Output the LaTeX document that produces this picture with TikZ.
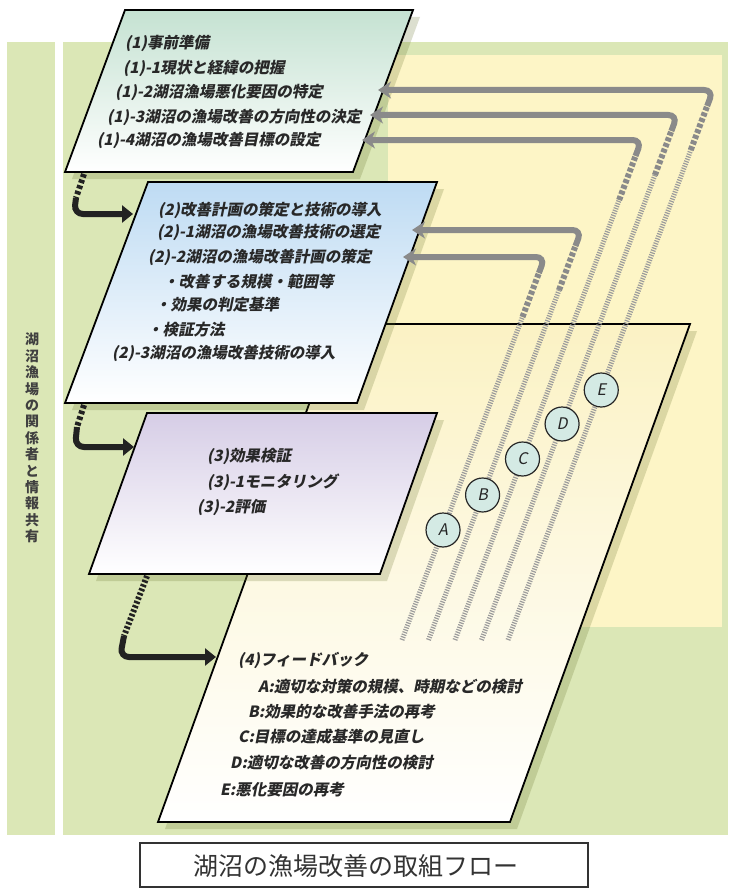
\documentclass[tikz,border=0pt]{standalone}
\usepackage{fontspec}
\usetikzlibrary{arrows.meta}
\newfontfamily\jp{Noto Sans CJK JP}
\newfontfamily\jpit[FakeSlant=0.2]{Noto Sans CJK JP}
\definecolor{bggreen}{RGB}{219,231,182}
\definecolor{bgyellow}{RGB}{253,245,198}
\definecolor{ponetop}{RGB}{197,226,210}
\definecolor{ptwotop}{RGB}{190,219,243}
\definecolor{pthreetop}{RGB}{214,205,230}
\definecolor{pfourtop}{RGB}{251,242,196}
\definecolor{fbgray}{RGB}{138,138,138}
\definecolor{circfill}{RGB}{212,234,228}
\definecolor{txtc}{RGB}{40,40,40}
\definecolor{shadowc}{RGB}{100,110,40}
\definecolor{connc}{RGB}{34,34,34}
\tikzset{
  panel/.style={draw=black, line width=1.8pt, line join=miter},
  shadowp/.style={fill=shadowc, fill opacity=0.22, draw=none},
  ptext/.style={anchor=west, inner sep=0pt, text=txtc, font=\jpit\bfseries\fontsize{15.5}{18}\selectfont},
  fbsolid/.style={draw=fbgray, line width=6pt, rounded corners=9pt, -{Stealth[length=13pt,width=17pt,inset=4pt]}},
  fbcoarse/.style={draw=fbgray, line width=6pt, dash pattern=on 4pt off 2pt},
  fbfine/.style={draw=fbgray!85, line width=5pt, dash pattern=on 1.2pt off 1.3pt},
  letterc/.style={circle, draw=black!85, line width=1.2pt, fill=circfill, minimum size=34pt, inner sep=0pt, text=black!85, font=\jpit\fontsize{16}{16}\selectfont},
  conndash/.style={draw=connc, line width=6pt, dash pattern=on 3.5pt off 2.5pt},
  connsolid/.style={draw=connc, line width=6pt, rounded corners=9pt, -{Triangle[length=11pt,width=17pt]}},
}
\begin{document}
\begin{tikzpicture}[x=1pt,y=-1pt]
\useasboundingbox (0,0) rectangle (728,888);
\fill[white] (0,0) rectangle (728,888);
% backgrounds
\fill[bggreen] (7,42) rectangle (55,835);
\fill[bggreen] (63,42) rectangle (728,835);
\fill[bgyellow] (388,55) rectangle (722,627);

% panel 4
\begin{scope}[shift={(7,7)}]
\fill[shadowp] (338,324) -- (690,324) -- (510,822) -- (158,822) -- cycle;
\end{scope}
\shade[top color=pfourtop, bottom color=white] (338,324) -- (690,324) -- (510,822) -- (158,822) -- cycle;
\draw[panel] (338,324) -- (690,324) -- (510,822) -- (158,822) -- cycle;

% panel 3
\begin{scope}[shift={(7,7)}]
\fill[shadowp] (147,413) -- (437,413) -- (380,574) -- (89,574) -- cycle;
\end{scope}
\shade[top color=pthreetop, bottom color=white] (147,413) -- (437,413) -- (380,574) -- (89,574) -- cycle;
\draw[panel] (147,413) -- (437,413) -- (380,574) -- (89,574) -- cycle;

% panel 2
\begin{scope}[shift={(7,7)}]
\fill[shadowp] (148,182) -- (437,182) -- (357,403) -- (65,403) -- cycle;
\end{scope}
\shade[top color=ptwotop, bottom color=white] (148,182) -- (437,182) -- (357,403) -- (65,403) -- cycle;
\draw[panel] (148,182) -- (437,182) -- (357,403) -- (65,403) -- cycle;

% panel 1
\begin{scope}[shift={(7,7)}]
\fill[shadowp] (125,10) -- (413,10) -- (353,172) -- (65,172) -- cycle;
\end{scope}
\shade[top color=ponetop, bottom color=white] (125,10) -- (413,10) -- (353,172) -- (65,172) -- cycle;
\draw[panel] (125,10) -- (413,10) -- (353,172) -- (65,172) -- cycle;

% feedback lines
\foreach \xb/\ya/\xt/\n/\yc in {402/257/403/A/530, 428.5/230/412/B/495, 455/140/362/C/459, 481.5/115/370/D/424, 508/90/378/E/390}{
  \pgfmathsetmacro\xc{\xb+0.373*(640-\ya)}
  \pgfmathsetmacro\xs{\xb+0.373*(640-\ya-16)}
  \pgfmathsetmacro\ys{\ya+16}
  \pgfmathsetmacro\xm{\xb+0.373*(640-\ya-60)}
  \pgfmathsetmacro\ym{\ya+60}
  \pgfmathsetmacro\xl{\xb+0.373*(640-\yc)}
  \coordinate (fb\n bot) at (\xb,640);
  \coordinate (fb\n mid) at (\xm,\ym);
  \coordinate (fb\n s) at (\xs,\ys);
  \coordinate (fb\n corner) at (\xc,\ya);
  \coordinate (fb\n tip) at (\xt,\ya);
  \draw[fbfine] (fb\n bot) -- (fb\n mid);
  \draw[fbcoarse] (fb\n mid) -- (fb\n s);
  \draw[fbsolid] (fb\n s) -- (fb\n corner) -- (fb\n tip);
  \node[letterc] (c\n) at (\xl,\yc) {\n};
}

% black connectors
\coordinate (k1a) at (84,174);
\coordinate (k1b) at (76,198);
\coordinate (k1c) at (74,214);
\coordinate (k1d) at (133,214);
\draw[conndash] (k1a) -- (k1b);
\draw[connsolid] (k1b) -- (k1c) -- (k1d);
\coordinate (k2a) at (84,405);
\coordinate (k2b) at (77,427);
\coordinate (k2c) at (75,447);
\coordinate (k2d) at (134,447);
\draw[conndash] (k2a) -- (k2b);
\draw[connsolid] (k2b) -- (k2c) -- (k2d);
\coordinate (k3a) at (147,576);
\coordinate (k3b) at (124,636);
\coordinate (k3c) at (120,657);
\coordinate (k3d) at (216,657);
\draw[conndash, dash pattern=on 2.5pt off 2pt] (k3a) -- (k3b);
\draw[connsolid] (k3b) -- (k3c) -- (k3d);

% panel 1 text
\node[ptext] (t11) at (125,43) {(1)事前準備};
\node[ptext] (t12) at (123,68) {(1)-1現状と経緯の把握};
\node[ptext] (t13) at (115,92) {(1)-2湖沼漁場悪化要因の特定};
\node[ptext] (t14) at (107,117) {(1)-3湖沼の漁場改善の方向性の決定};
\node[ptext] (t15) at (97,140) {(1)-4湖沼の漁場改善目標の設定};
% panel 2 text
\node[ptext] (t21) at (158,210) {(2)改善計画の策定と技術の導入};
\node[ptext] (t22) at (157,232) {(2)-1湖沼の漁場改善技術の選定};
\node[ptext] (t23) at (148,257) {(2)-2湖沼の漁場改善計画の策定};
\node[ptext] (t24) at (163,282) {・改善する規模・範囲等};
\node[ptext] (t25) at (155,305) {・効果の判定基準};
\node[ptext] (t26) at (147,330) {・検証方法};
\node[ptext] (t27) at (112,353) {(2)-3湖沼の漁場改善技術の導入};
% panel 3 text
\node[ptext] (t31) at (207,456) {(3)効果検証};
\node[ptext] (t32) at (207,482) {(3)-1モニタリング};
\node[ptext] (t33) at (197,507) {(3)-2評価};
% panel 4 text
\node[ptext] (t41) at (238,660) {(4)フィードバック};
\node[ptext] (t42) at (258,687) {A:適切な対策の規模、時期などの検討};
\node[ptext] (t43) at (248,712) {B:効果的な改善手法の再考};
\node[ptext] (t44) at (238,737) {C:目標の達成基準の見直し};
\node[ptext] (t45) at (230,763) {D:適切な改善の方向性の検討};
\node[ptext] (t46) at (220,790) {E:悪化要因の再考};

% left vertical label
\node[align=center, inner sep=0pt, text=black!75, font=\jp\bfseries\fontsize{14}{16.4}\selectfont] (side) at (32,438)
 {湖\\沼\\漁\\場\\の\\関\\係\\者\\と\\情\\報\\共\\有};

% caption
\node[draw=black!80, line width=1.3pt, minimum width=448pt, minimum height=44pt, inner sep=0pt] (capbox) at (364,865) {};
\node[inner sep=0pt, text=black!80, font=\jp\fontsize{25}{25}\selectfont] (captext) at (356,866) {湖沼の漁場改善の取組フロー};
\end{tikzpicture}
\end{document}
